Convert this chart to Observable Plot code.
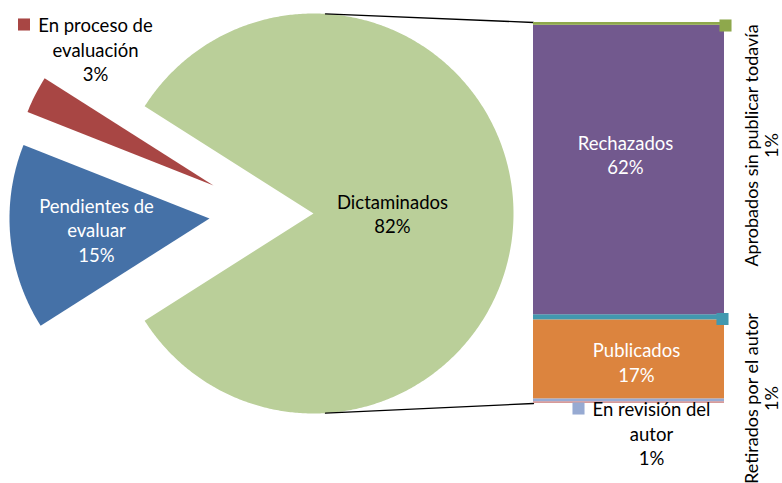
<!DOCTYPE html>
<html>
<head>
<meta charset="utf-8">
<script src="https://cdn.jsdelivr.net/npm/d3@7"></script>
<script src="https://cdn.jsdelivr.net/npm/@observablehq/plot@0.6"></script>
<style>
  html, body { margin: 0; padding: 0; background: #fff; }
  #chart svg { display: block; }
</style>
</head>
<body>
<div id="chart"></div>
<script>
// ---- Data ----
const pieCategories = ["Dictaminados", "En proceso de evaluación", "Pendientes de evaluar"];
const pieValues = [82, 3, 15];
const pieLabels = ["Dictaminados\n82%", "En proceso de\nevaluación\n3%", "Pendientes de\nevaluar\n15%"];
const pieColors = ["#BACF99", "#A84644", "#4571A7"];

// Bar of pie: breakdown of "Dictaminados", bottom to top
const barCategories = ["(sin etiqueta)", "En revisión del autor", "Publicados", "Retirados por el autor", "Rechazados", "Aprobados sin publicar todavía"];
const barValues = [0.4, 0.6, 17.0, 1.1, 62.3, 0.6];
const barLabels = ["", "En revisión del\nautor\n1%", "Publicados\n17%", "Retirados por el autor\n1%", "Rechazados\n62%", "Aprobados sin publicar todavía\n1%"];
const barColors = ["#D79A99", "#97AAD2", "#DC843E", "#4298AF", "#72598E", "#8EA84C"];

// ---- Layout (pixel geometry converted into data units) ----
const W = 782, H = 483;
const barTop = 22, barBottom = 403;
const barTotal = d3.sum(barValues);
const k = (barBottom - barTop) / barTotal;          // px per percentage point
const X = px => px / k;
const Y = py => (barBottom - py) / k;

const R = 200;                                      // pie radius (px)
const pieCenter = [313, 213];
const explode = { "Dictaminados": [0, 0], "En proceso de evaluación": [-100, -28], "Pendientes de evaluar": [-104, 5] };

const pieRows = pieCategories.map((c, i) => ({ category: c, value: pieValues[i], label: pieLabels[i] }));
const barRows = barCategories.map((c, i) => ({ category: c, value: barValues[i], label: barLabels[i] }));

// angles: Dictaminados centred on the right, going counter-clockwise
const total = d3.sum(pieValues);
let a = -Math.PI * pieValues[0] / total;
const slicePts = [];
pieRows.forEach(r => {
  const a0 = a, a1 = a + 2 * Math.PI * r.value / total;
  a = a1;
  const [ex, ey] = explode[r.category];
  const cx = pieCenter[0] + ex, cy = pieCenter[1] + ey;
  slicePts.push({ category: r.category, x: X(cx), y: Y(cy) });
  const n = Math.max(4, Math.ceil((a1 - a0) / (Math.PI / 360)));
  for (let j = 0; j <= n; j++) {
    const t = a0 + (a1 - a0) * j / n;
    slicePts.push({ category: r.category, x: X(cx + R * Math.cos(t)), y: Y(cy - R * Math.sin(t)) });
  }
  slicePts.push({ category: r.category, x: X(cx), y: Y(cy) });
});

// connector lines from the pie edge to the bar
const barX1 = X(533), barX2 = X(724);
const tA = Math.acos(12 / R);
const connectors = [
  { id: "top", x: X(pieCenter[0] + R * Math.cos(tA)), y: Y(pieCenter[1] - R * Math.sin(tA)) },
  { id: "top", x: barX1, y: barTotal },
  { id: "bot", x: X(pieCenter[0] + R * Math.cos(tA)), y: Y(pieCenter[1] + R * Math.sin(tA)) },
  { id: "bot", x: barX1, y: 0 }
];

// label placements (px)
const labelPos = {
  "Dictaminados": [392, 212.5, "#000"],
  "En proceso de evaluación": [95, 48.5, "#000"],
  "Pendientes de evaluar": [96, 229, "#fff"],
  "Rechazados": [625, 153.5, "#fff"],
  "Publicados": [636, 361, "#fff"],
  "En revisión del autor": [651, 432.5, "#000"]
};
const rotatedPos = {
  "Aprobados sin publicar todavía": [761, 145],
  "Retirados por el autor": [761, 398]
};
const keyPos = {
  "En proceso de evaluación": [23.5, 24],
  "Aprobados sin publicar todavía": [725, 25],
  "Retirados por el autor": [722, 318.5],
  "En revisión del autor": [578, 408]
};

const allLabels = [...pieRows, ...barRows];
const flatLabels = allLabels.filter(d => labelPos[d.category]).map(d => ({
  text: d.label, x: X(labelPos[d.category][0]), y: Y(labelPos[d.category][1]), color: labelPos[d.category][2]
}));
const rotLabels = allLabels.filter(d => rotatedPos[d.category]).map(d => ({
  text: d.label, x: X(rotatedPos[d.category][0]), y: Y(rotatedPos[d.category][1])
}));
const keys = allLabels.filter(d => keyPos[d.category]).map(d => ({
  category: d.category, x: X(keyPos[d.category][0]), y: Y(keyPos[d.category][1])
}));

const font = "Lato, 'Open Sans', sans-serif";
const fs = 18.5;

const chart = Plot.plot({
  width: W, height: H,
  margin: 0,
  x: { domain: [0, X(W)], axis: null },
  y: { domain: [Y(H), Y(0)], axis: null },
  color: { domain: [...pieCategories, ...barCategories], range: [...pieColors, ...barColors] },
  style: { fontFamily: font, background: "#fff" },
  marks: [
    Plot.line(slicePts, { x: "x", y: "y", z: "category", fill: "category", stroke: null, curve: "linear" }),
    Plot.line(connectors, { x: "x", y: "y", z: "id", stroke: "#000", strokeWidth: 1.3 }),
    Plot.rectY(barRows, Plot.stackY({ x1: barX1, x2: barX2, y: "value", fill: "category", order: null })),
    Plot.dot(keys, { x: "x", y: "y", fill: "category", symbol: "square", r: 6.8, stroke: null }),
    Plot.text(flatLabels, { x: "x", y: "y", text: "text", fill: "color", fontSize: fs, lineHeight: 1.33, textAnchor: "middle", fontFamily: font }),
    Plot.text(rotLabels, { x: "x", y: "y", text: "text", fill: "#000", fontSize: 18, lineHeight: 1.12, rotate: -90, textAnchor: "middle", fontFamily: font })
  ]
});
document.getElementById("chart").appendChild(chart);
</script>
</body>
</html>
